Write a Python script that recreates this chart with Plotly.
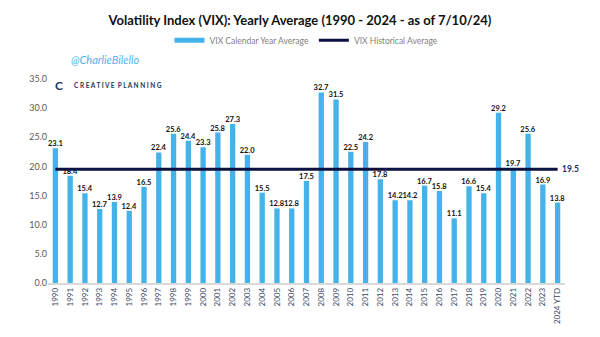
import plotly.graph_objects as go

years = ["1990", "1991", "1992", "1993", "1994", "1995", "1996", "1997", "1998", "1999",
         "2000", "2001", "2002", "2003", "2004", "2005", "2006", "2007", "2008", "2009",
         "2010", "2011", "2012", "2013", "2014", "2015", "2016", "2017", "2018", "2019",
         "2020", "2021", "2022", "2023", "2024 YTD"]
vix_avg = [23.1, 18.4, 15.4, 12.7, 13.9, 12.4, 16.5, 22.4, 25.6, 24.4,
           23.3, 25.8, 27.3, 22.0, 15.5, 12.8, 12.8, 17.5, 32.7, 31.5,
           22.5, 24.2, 17.8, 14.2, 14.2, 16.7, 15.8, 11.1, 16.6, 15.4,
           29.2, 19.7, 25.6, 16.9, 13.8]
hist_avg = 19.5
y_ticks = [0, 5, 10, 15, 20, 25, 30, 35]

BAR = "#45b3ea"
NAVY = "#0b1241"
FONT = "Lato, Calibri, Arial, sans-serif"

fig = go.Figure()
fig.add_trace(go.Bar(
    x=years, y=vix_avg, name="VIX Calendar Year Average", showlegend=False,
    marker=dict(color=BAR, line=dict(width=0)),
    text=[f"{v:.1f}" for v in vix_avg], textposition="outside",
    constraintext="none",
    textfont=dict(size=7.5, color="#111111", family=FONT, weight="bold"),
    cliponaxis=False,
))
# legend entry drawn as a wide bar-coloured stroke (no visible data)
fig.add_trace(go.Scatter(
    x=[years[0]], y=[None], name="VIX Calendar Year Average", mode="lines",
    line=dict(color=BAR, width=5),
))
fig.add_trace(go.Scatter(
    x=years, y=[hist_avg] * len(years), name="VIX Historical Average",
    mode="lines", line=dict(color=NAVY, width=3), cliponaxis=False,
))
fig.add_annotation(x=years[-1], y=hist_avg, text=f"<b>{hist_avg:.1f}</b>",
                   showarrow=False, xanchor="left", xshift=2,
                   font=dict(size=8.5, color="#1f2d6b", family=FONT))

fig.update_layout(
    width=600, height=337,
    margin=dict(l=48, r=35, t=79, b=54, autoexpand=False),
    paper_bgcolor="white", plot_bgcolor="white",
    font=dict(family=FONT, color="#595959"),
    bargap=0.64,
    title=dict(text="<b>Volatility Index (VIX): Yearly Average (1990 - 2024 - as of 7/10/24)</b>",
               x=0.5, xanchor="center", y=0.94, yanchor="middle",
               font=dict(size=13, color="#111111", family=FONT)),
    legend=dict(orientation="h", x=0.5, xanchor="center", y=1.19, yanchor="middle",
                font=dict(size=8.5, color="#7f7f7f", family=FONT),
                itemwidth=30, tracegroupgap=0, bgcolor="rgba(0,0,0,0)"),
    xaxis=dict(type="category", categoryorder="array", categoryarray=years,
               range=[-0.5, len(years) - 0.5],
               tickangle=-90, tickfont=dict(size=8, color="#404a66"),
               showline=True, linecolor="#d9d9d9", linewidth=1.5, ticks="",
               showgrid=False, automargin=False),
    yaxis=dict(range=[0, 35], tickvals=y_ticks, tickformat=".1f",
               tickfont=dict(size=9, color="#595959"), showgrid=False,
               zeroline=False, showline=False, ticks="", automargin=False),
)

fig.add_annotation(xref="paper", yref="paper", x=0.111, y=1.098, xanchor="center",
                   yanchor="middle", text="<i>@CharlieBilello</i>", showarrow=False,
                   font=dict(size=11, color="#4fb4e8", family=FONT))
fig.add_annotation(xref="paper", yref="paper", x=0.022, y=0.966, xanchor="center",
                   yanchor="middle", text="<b>C</b>", showarrow=False,
                   font=dict(size=12, color="#1b3a5c", family=FONT))
fig.add_annotation(xref="paper", yref="paper", x=0.135, y=0.966, xanchor="center",
                   yanchor="middle", text="<b>C R E A T I V E  P L A N N I N G</b>",
                   showarrow=False,
                   font=dict(size=6.5, color="#1b3a5c", family=FONT))

fig.write_html("out.html")
